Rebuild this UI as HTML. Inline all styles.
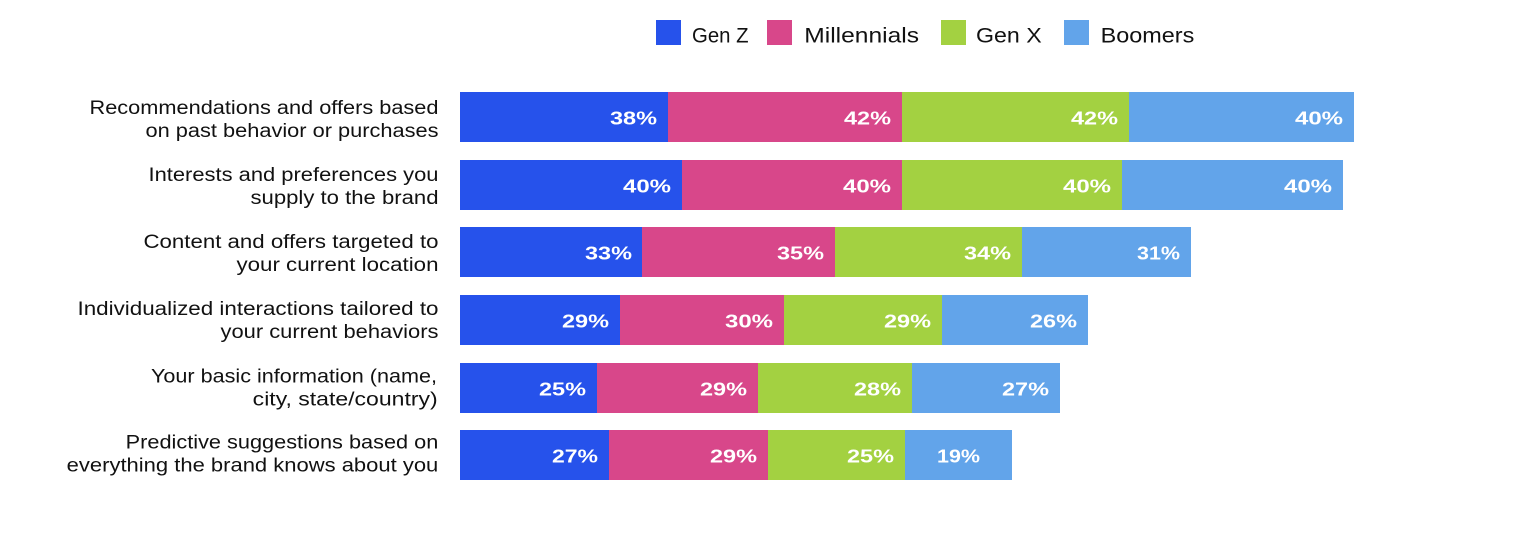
<!DOCTYPE html>
<html>
<head>
<meta charset="utf-8">
<style>
  html, body { margin:0; padding:0; background:#ffffff; }
  body { width:1532px; height:534px; overflow:hidden; }
  svg { display:block; }
  .lbl { font-family:"Liberation Sans", Arial, sans-serif; font-size:19px; fill:#111111; }
  .leg { font-family:"Liberation Sans", Arial, sans-serif; font-size:21px; fill:#111111; }
  .pct { font-family:"Liberation Sans", Arial, sans-serif; font-size:18.5px; font-weight:bold; fill:#ffffff; }
</style>
</head>
<body>
<svg width="1532" height="534" viewBox="0 0 1532 534" xmlns="http://www.w3.org/2000/svg">
  <!-- Legend -->
  <rect x="656" y="20" width="25" height="25" fill="#2652EB"/>
  <text class="leg" x="692" y="42.7" textLength="56.6" lengthAdjust="spacingAndGlyphs">Gen Z</text>
  <rect x="767" y="20" width="25" height="25" fill="#D8478A"/>
  <text class="leg" x="804.3" y="42.7" textLength="114.7" lengthAdjust="spacingAndGlyphs">Millennials</text>
  <rect x="941" y="20" width="25" height="25" fill="#A3D141"/>
  <text class="leg" x="976" y="42.7" textLength="65.7" lengthAdjust="spacingAndGlyphs">Gen X</text>
  <rect x="1064" y="20" width="25" height="25" fill="#62A4EA"/>
  <text class="leg" x="1100.7" y="42.7" textLength="93.6" lengthAdjust="spacingAndGlyphs">Boomers</text>

  <!-- Row labels -->
  <g text-anchor="end">
    <text class="lbl" x="438.5" y="114" textLength="349" lengthAdjust="spacingAndGlyphs">Recommendations and offers based</text>
    <text class="lbl" x="438.5" y="137" textLength="293" lengthAdjust="spacingAndGlyphs">on past behavior or purchases</text>

    <text class="lbl" x="438.5" y="181" textLength="290" lengthAdjust="spacingAndGlyphs">Interests and preferences you</text>
    <text class="lbl" x="438.5" y="204" textLength="188" lengthAdjust="spacingAndGlyphs">supply to the brand</text>

    <text class="lbl" x="438.5" y="248" textLength="295" lengthAdjust="spacingAndGlyphs">Content and offers targeted to</text>
    <text class="lbl" x="438.5" y="271" textLength="202" lengthAdjust="spacingAndGlyphs">your current location</text>

    <text class="lbl" x="438.5" y="315" textLength="361" lengthAdjust="spacingAndGlyphs">Individualized interactions tailored to</text>
    <text class="lbl" x="438.5" y="338" textLength="218" lengthAdjust="spacingAndGlyphs">your current behaviors</text>

    <text class="lbl" x="437" y="382.5" textLength="286" lengthAdjust="spacingAndGlyphs">Your basic information (name,</text>
    <text class="lbl" x="437.7" y="405.3" textLength="185" lengthAdjust="spacingAndGlyphs">city, state/country)</text>

    <text class="lbl" x="438.3" y="448.5" textLength="312.6" lengthAdjust="spacingAndGlyphs">Predictive suggestions based on</text>
    <text class="lbl" x="438.3" y="471.5" textLength="371.6" lengthAdjust="spacingAndGlyphs">everything the brand knows about you</text>
  </g>

  <!-- Row 1 -->
  <rect x="460" y="92" width="208" height="50" fill="#2652EB"/>
  <rect x="668" y="92" width="234" height="50" fill="#D8478A"/>
  <rect x="902" y="92" width="227" height="50" fill="#A3D141"/>
  <rect x="1129" y="92" width="225" height="50" fill="#62A4EA"/>
  <!-- Row 2 -->
  <rect x="460" y="160" width="222" height="50" fill="#2652EB"/>
  <rect x="682" y="160" width="220" height="50" fill="#D8478A"/>
  <rect x="902" y="160" width="220" height="50" fill="#A3D141"/>
  <rect x="1122" y="160" width="221" height="50" fill="#62A4EA"/>
  <!-- Row 3 -->
  <rect x="460" y="227" width="182" height="50" fill="#2652EB"/>
  <rect x="642" y="227" width="193" height="50" fill="#D8478A"/>
  <rect x="835" y="227" width="187" height="50" fill="#A3D141"/>
  <rect x="1022" y="227" width="169" height="50" fill="#62A4EA"/>
  <!-- Row 4 -->
  <rect x="460" y="295" width="160" height="50" fill="#2652EB"/>
  <rect x="620" y="295" width="164" height="50" fill="#D8478A"/>
  <rect x="784" y="295" width="158" height="50" fill="#A3D141"/>
  <rect x="942" y="295" width="146" height="50" fill="#62A4EA"/>
  <!-- Row 5 -->
  <rect x="460" y="363" width="137" height="50" fill="#2652EB"/>
  <rect x="597" y="363" width="161" height="50" fill="#D8478A"/>
  <rect x="758" y="363" width="154" height="50" fill="#A3D141"/>
  <rect x="912" y="363" width="148" height="50" fill="#62A4EA"/>
  <!-- Row 6 -->
  <rect x="460" y="430" width="149" height="50" fill="#2652EB"/>
  <rect x="609" y="430" width="159" height="50" fill="#D8478A"/>
  <rect x="768" y="430" width="137" height="50" fill="#A3D141"/>
  <rect x="905" y="430" width="107" height="50" fill="#62A4EA"/>

  <!-- Percent labels -->
  <g text-anchor="end">
    <text class="pct" x="657" y="124.5" textLength="47" lengthAdjust="spacingAndGlyphs">38%</text>
    <text class="pct" x="891" y="124.5" textLength="47" lengthAdjust="spacingAndGlyphs">42%</text>
    <text class="pct" x="1118" y="124.5" textLength="47" lengthAdjust="spacingAndGlyphs">42%</text>
    <text class="pct" x="1343" y="124.5" textLength="48" lengthAdjust="spacingAndGlyphs">40%</text>

    <text class="pct" x="671" y="192.5" textLength="48" lengthAdjust="spacingAndGlyphs">40%</text>
    <text class="pct" x="891" y="192.5" textLength="48" lengthAdjust="spacingAndGlyphs">40%</text>
    <text class="pct" x="1111" y="192.5" textLength="48" lengthAdjust="spacingAndGlyphs">40%</text>
    <text class="pct" x="1332" y="192.5" textLength="48" lengthAdjust="spacingAndGlyphs">40%</text>

    <text class="pct" x="632" y="259.5" textLength="47" lengthAdjust="spacingAndGlyphs">33%</text>
    <text class="pct" x="824" y="259.5" textLength="47" lengthAdjust="spacingAndGlyphs">35%</text>
    <text class="pct" x="1011" y="259.5" textLength="47" lengthAdjust="spacingAndGlyphs">34%</text>
    <text class="pct" x="1180" y="259.5" textLength="43" lengthAdjust="spacingAndGlyphs">31%</text>

    <text class="pct" x="609" y="327.5" textLength="47" lengthAdjust="spacingAndGlyphs">29%</text>
    <text class="pct" x="773" y="327.5" textLength="48" lengthAdjust="spacingAndGlyphs">30%</text>
    <text class="pct" x="931" y="327.5" textLength="47" lengthAdjust="spacingAndGlyphs">29%</text>
    <text class="pct" x="1077" y="327.5" textLength="47" lengthAdjust="spacingAndGlyphs">26%</text>

    <text class="pct" x="586" y="395.5" textLength="47" lengthAdjust="spacingAndGlyphs">25%</text>
    <text class="pct" x="747" y="395.5" textLength="47" lengthAdjust="spacingAndGlyphs">29%</text>
    <text class="pct" x="901" y="395.5" textLength="47" lengthAdjust="spacingAndGlyphs">28%</text>
    <text class="pct" x="1049" y="395.5" textLength="47" lengthAdjust="spacingAndGlyphs">27%</text>

    <text class="pct" x="598" y="462.5" textLength="46" lengthAdjust="spacingAndGlyphs">27%</text>
    <text class="pct" x="757" y="462.5" textLength="47" lengthAdjust="spacingAndGlyphs">29%</text>
    <text class="pct" x="894" y="462.5" textLength="47" lengthAdjust="spacingAndGlyphs">25%</text>
    <text class="pct" x="980" y="462.5" textLength="43" lengthAdjust="spacingAndGlyphs">19%</text>
  </g>
</svg>
</body>
</html>
